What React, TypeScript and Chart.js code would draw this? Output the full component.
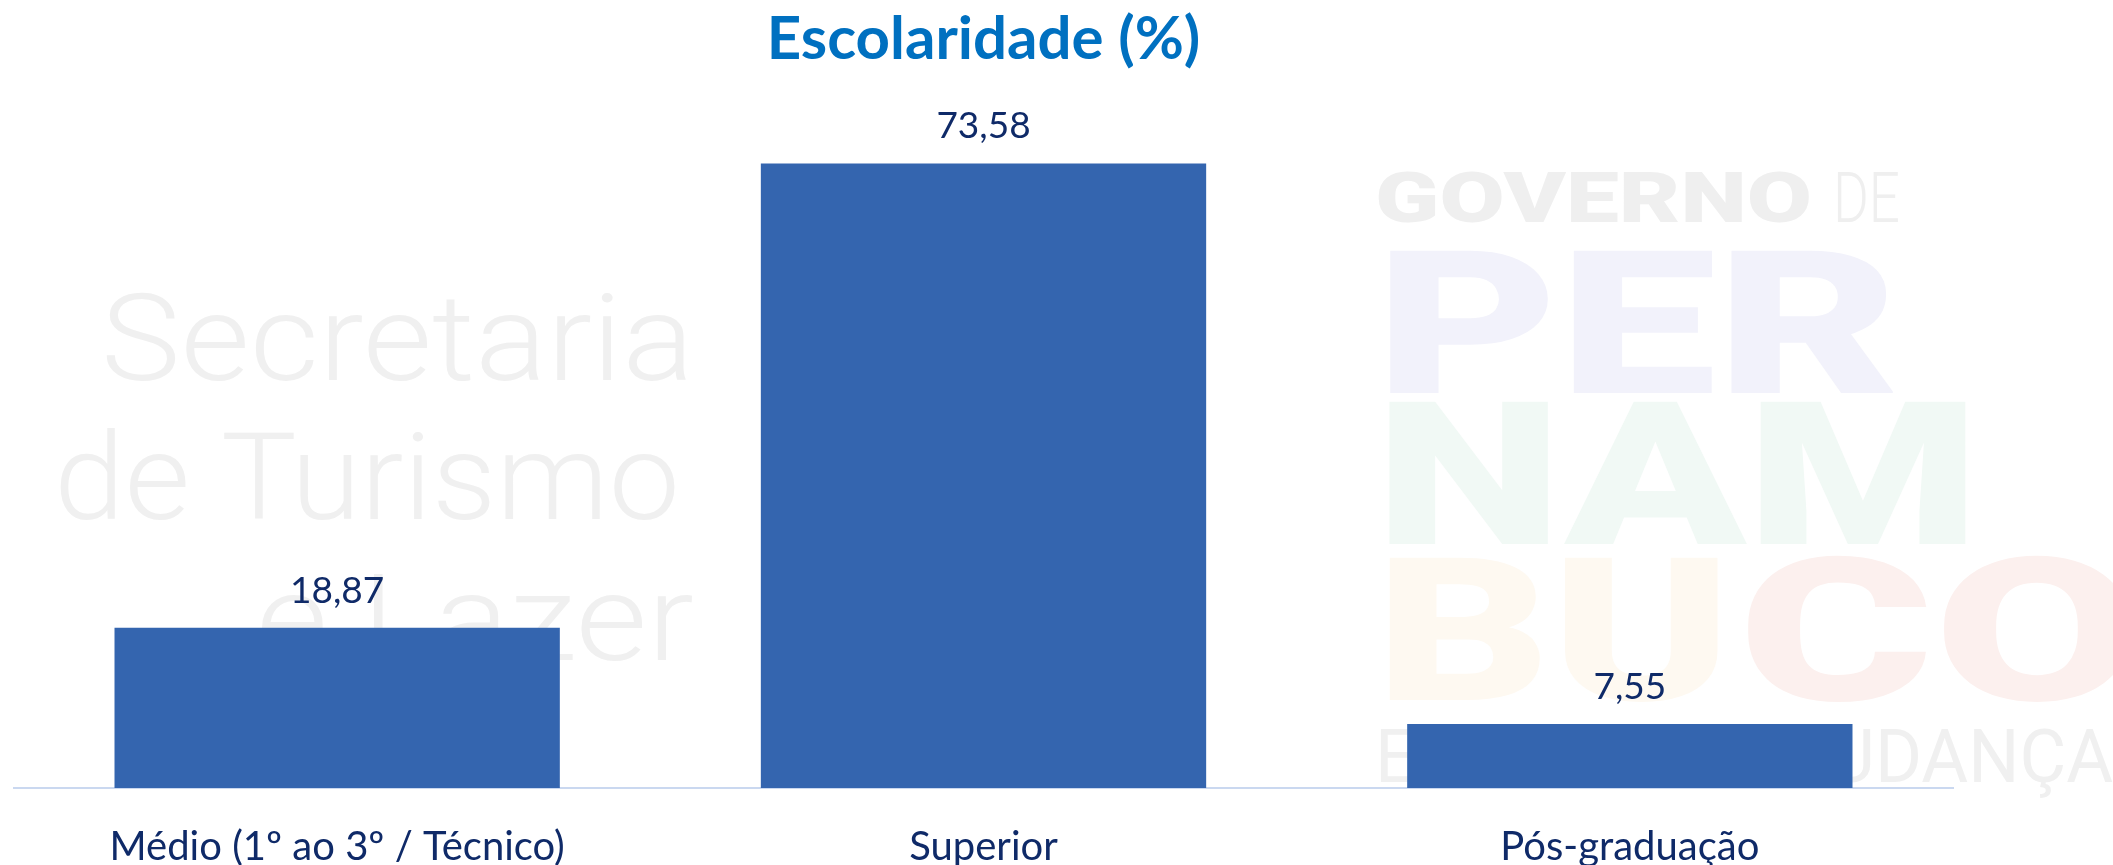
import React, { useEffect, useRef } from "react";
import { Chart, registerables } from "chart.js";

Chart.register(...registerables);

const categories = ["Médio (1º ao 3º / Técnico)", "Superior", "Pós-graduação"];
const values = [18.87, 73.58, 7.55];
const titleText = "Escolaridade (%)";
const watermarkLeft = ["Secretaria", "de Turismo", "e Lazer"];
const watermarkRight = ["GOVERNO", "DE", "PER", "NAM", "BU", "CO", "ESTADO DE MUDANÇA"];
const yMax = 80;

const NAVY = "#0F2A68";
const BAR = "#3465AF";
const AXIS = "#CAD8F0";
const TITLE = "#0070C0";
const FONT = "Lato, 'Open Sans', sans-serif";

const fmt = (v: number) => v.toFixed(2).replace(".", ",");

function fitText(
  ctx: CanvasRenderingContext2D,
  text: string,
  x0: number,
  x1: number,
  baseline: number,
  font: string,
  color: string
) {
  ctx.save();
  ctx.font = font;
  ctx.fillStyle = color;
  ctx.textAlign = "left";
  ctx.textBaseline = "alphabetic";
  const w = ctx.measureText(text).width || 1;
  ctx.translate(x0, baseline);
  ctx.scale((x1 - x0) / w, 1);
  ctx.fillText(text, 0, 0);
  ctx.restore();
}

const watermarkPlugin = {
  id: "watermark",
  beforeDraw(chart: any) {
    const ctx = chart.ctx as CanvasRenderingContext2D;
    ctx.save();
    ctx.fillStyle = "#FFFFFF";
    ctx.fillRect(0, 0, chart.width, chart.height);
    ctx.restore();
    const light = "300 120px Roboto, sans-serif";
    fitText(ctx, watermarkLeft[0], 101, 694, 380, light, "#F0F0F0");
    fitText(ctx, watermarkLeft[1], 54, 680, 519, light, "#F0F0F0");
    fitText(ctx, watermarkLeft[2], 256, 694, 660, light, "#F0F0F0");
    const heavy = "900 70px Roboto, sans-serif";
    fitText(ctx, watermarkRight[0], 1375, 1812, 222, heavy, "#EFEFEF");
    fitText(ctx, watermarkRight[1], 1833, 1900, 222, "300 70px Roboto, sans-serif", "#EFEFEF");
    const big = "900 200px Roboto, sans-serif";
    fitText(ctx, watermarkRight[2], 1375, 1900, 393, big, "#F2F2FB");
    fitText(ctx, watermarkRight[3], 1375, 1980, 544, big, "#F1F9F5");
    fitText(ctx, watermarkRight[4], 1375, 1732, 700, big, "#FEF9F1");
    fitText(ctx, watermarkRight[5], 1738, 2140, 700, big, "#FCF0EE");
    fitText(ctx, watermarkRight[6], 1375, 2113, 782, "400 75px Roboto, sans-serif", "#F0F0F0");
  },
};

const valueLabelPlugin = {
  id: "valueLabels",
  afterDatasetsDraw(chart: any) {
    const ctx = chart.ctx as CanvasRenderingContext2D;
    const meta = chart.getDatasetMeta(0);
    ctx.save();
    ctx.font = `37px ${FONT}`;
    ctx.fillStyle = NAVY;
    ctx.textAlign = "center";
    ctx.textBaseline = "alphabetic";
    meta.data.forEach((bar: any, i: number) => {
      ctx.fillText(fmt(values[i]), bar.x, bar.y - 25);
    });
    ctx.restore();
  },
};

export default function App() {
  const ref = useRef<HTMLCanvasElement | null>(null);

  useEffect(() => {
    document.body.style.margin = "0";
    const canvas = ref.current;
    if (!canvas) return;
    const chart = new Chart(canvas, {
      type: "bar",
      data: {
        labels: categories,
        datasets: [
          {
            data: values,
            backgroundColor: BAR,
            borderWidth: 0,
            barPercentage: 0.689,
            categoryPercentage: 1,
          },
        ],
      },
      options: {
        animation: false,
        responsive: false,
        devicePixelRatio: 1,
        layout: { padding: { left: 14, right: 160, top: 0, bottom: -41 } },
        plugins: {
          legend: { display: false },
          tooltip: { enabled: false },
          title: {
            display: true,
            text: titleText,
            color: TITLE,
            fullSize: false,
            font: { family: FONT, size: 60, weight: "bold", lineHeight: 1.2 },
            padding: { top: 4, bottom: 33 },
          },
        },
        scales: {
          x: {
            grid: { display: false, drawTicks: false },
            border: { display: true, color: AXIS, width: 2 },
            ticks: {
              color: NAVY,
              padding: 39,
              font: { family: FONT, size: 40, lineHeight: 1.0 },
              maxRotation: 0,
              autoSkip: false,
            },
          },
          y: { display: false, min: 0, max: yMax },
        },
      },
      plugins: [watermarkPlugin, valueLabelPlugin],
    });
    return () => chart.destroy();
  }, []);

  return (
    <div style={{ position: "relative", width: 2113, height: 865 }}>
      <canvas ref={ref} width={2113} height={865} style={{ display: "block", width: 2113, height: 865 }} />
    </div>
  );
}
